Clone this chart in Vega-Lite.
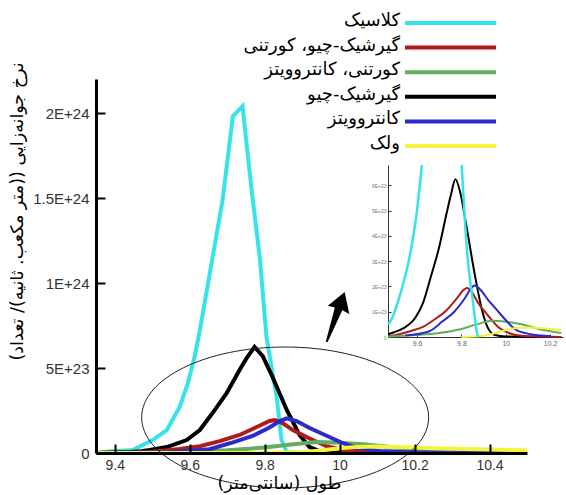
{
  "$schema": "https://vega.github.io/schema/vega-lite/v6.json",
  "width": 431,
  "height": 374,
  "autosize": "none",
  "padding": {"left": 96, "top": 79, "right": 39, "bottom": 42},
  "background": "white",
  "config": {"view": {"stroke": null}, "font": "Liberation Sans"},
  "datasets": {
    "curves": [
      {"s": "کلاسیک", "x": 9.35, "y": 0},
      {"s": "کلاسیک", "x": 9.4, "y": 1.2e22},
      {"s": "کلاسیک", "x": 9.448, "y": 1.8e22},
      {"s": "کلاسیک", "x": 9.501, "y": 7.6e22},
      {"s": "کلاسیک", "x": 9.539, "y": 1.35e23},
      {"s": "کلاسیک", "x": 9.573, "y": 2.7e23},
      {"s": "کلاسیک", "x": 9.595, "y": 4.1e23},
      {"s": "کلاسیک", "x": 9.613, "y": 5.65e23},
      {"s": "کلاسیک", "x": 9.627, "y": 7.2e23},
      {"s": "کلاسیک", "x": 9.661, "y": 1.15e24},
      {"s": "کلاسیک", "x": 9.688, "y": 1.49e24},
      {"s": "کلاسیک", "x": 9.715, "y": 1.98e24},
      {"s": "کلاسیک", "x": 9.741, "y": 2.04e24},
      {"s": "کلاسیک", "x": 9.765, "y": 1.55e24},
      {"s": "کلاسیک", "x": 9.787, "y": 1.15e24},
      {"s": "کلاسیک", "x": 9.805, "y": 6.8e23},
      {"s": "کلاسیک", "x": 9.832, "y": 3.3e23},
      {"s": "کلاسیک", "x": 9.845, "y": 7.6e22},
      {"s": "کلاسیک", "x": 9.859, "y": 6e21},
      {"s": "کلاسیک", "x": 9.9, "y": 0},
      {"s": "کلاسیک", "x": 10.5, "y": 0},
      {"s": "گیرشیک-چیو", "x": 9.35, "y": 0},
      {"s": "گیرشیک-چیو", "x": 9.44, "y": 6e21},
      {"s": "گیرشیک-چیو", "x": 9.47, "y": 1.1e22},
      {"s": "گیرشیک-چیو", "x": 9.493, "y": 1.8e22},
      {"s": "گیرشیک-چیو", "x": 9.539, "y": 3.5e22},
      {"s": "گیرشیک-چیو", "x": 9.592, "y": 7.6e22},
      {"s": "گیرشیک-چیو", "x": 9.627, "y": 1.35e23},
      {"s": "گیرشیک-چیو", "x": 9.661, "y": 2.35e23},
      {"s": "گیرشیک-چیو", "x": 9.699, "y": 3.53e23},
      {"s": "گیرشیک-چیو", "x": 9.733, "y": 4.88e23},
      {"s": "گیرشیک-چیو", "x": 9.752, "y": 5.59e23},
      {"s": "گیرشیک-چیو", "x": 9.773, "y": 6.24e23},
      {"s": "گیرشیک-چیو", "x": 9.795, "y": 5.7e23},
      {"s": "گیرشیک-چیو", "x": 9.821, "y": 4.47e23},
      {"s": "گیرشیک-چیو", "x": 9.859, "y": 2.53e23},
      {"s": "گیرشیک-چیو", "x": 9.893, "y": 1.06e23},
      {"s": "گیرشیک-چیو", "x": 9.92, "y": 3.5e22},
      {"s": "گیرشیک-چیو", "x": 9.95, "y": 8e21},
      {"s": "گیرشیک-چیو", "x": 10.0, "y": 2e21},
      {"s": "گیرشیک-چیو", "x": 10.25, "y": 0},
      {"s": "گیرشیک-چیو", "x": 10.5, "y": 0},
      {"s": "گیرشیک-چیو، کورتنی", "x": 9.35, "y": 0},
      {"s": "گیرشیک-چیو، کورتنی", "x": 9.47, "y": 3e21},
      {"s": "گیرشیک-چیو، کورتنی", "x": 9.493, "y": 6e21},
      {"s": "گیرشیک-چیو، کورتنی", "x": 9.573, "y": 2.4e22},
      {"s": "گیرشیک-چیو، کورتنی", "x": 9.627, "y": 4e22},
      {"s": "گیرشیک-چیو، کورتنی", "x": 9.68, "y": 7e22},
      {"s": "گیرشیک-چیو، کورتنی", "x": 9.733, "y": 1.06e23},
      {"s": "گیرشیک-چیو، کورتنی", "x": 9.779, "y": 1.53e23},
      {"s": "گیرشیک-چیو، کورتنی", "x": 9.813, "y": 1.88e23},
      {"s": "گیرشیک-چیو، کورتنی", "x": 9.827, "y": 1.94e23},
      {"s": "گیرشیک-چیو، کورتنی", "x": 9.848, "y": 1.76e23},
      {"s": "گیرشیک-چیو، کورتنی", "x": 9.875, "y": 1.35e23},
      {"s": "گیرشیک-چیو، کورتنی", "x": 9.92, "y": 8.5e22},
      {"s": "گیرشیک-چیو، کورتنی", "x": 9.965, "y": 4e22},
      {"s": "گیرشیک-چیو، کورتنی", "x": 10.013, "y": 1.6e22},
      {"s": "گیرشیک-چیو، کورتنی", "x": 10.08, "y": 4e21},
      {"s": "گیرشیک-چیو، کورتنی", "x": 10.25, "y": 0},
      {"s": "گیرشیک-چیو، کورتنی", "x": 10.5, "y": 0},
      {"s": "کورتنی، کانتروویتز", "x": 9.35, "y": 0},
      {"s": "کورتنی، کانتروویتز", "x": 9.47, "y": 2e21},
      {"s": "کورتنی، کانتروویتز", "x": 9.6, "y": 8e21},
      {"s": "کورتنی، کانتروویتز", "x": 9.7, "y": 1.6e22},
      {"s": "کورتنی، کانتروویتز", "x": 9.8, "y": 3.2e22},
      {"s": "کورتنی، کانتروویتز", "x": 9.87, "y": 5e22},
      {"s": "کورتنی، کانتروویتز", "x": 9.94, "y": 6.4e22},
      {"s": "کورتنی، کانتروویتز", "x": 10.0, "y": 6e22},
      {"s": "کورتنی، کانتروویتز", "x": 10.07, "y": 5e22},
      {"s": "کورتنی، کانتروویتز", "x": 10.15, "y": 3.2e22},
      {"s": "کورتنی، کانتروویتز", "x": 10.25, "y": 1.6e22},
      {"s": "کورتنی، کانتروویتز", "x": 10.35, "y": 6e21},
      {"s": "کورتنی، کانتروویتز", "x": 10.5, "y": 2e21},
      {"s": "کانتروویتز", "x": 9.35, "y": 0},
      {"s": "کانتروویتز", "x": 9.547, "y": 6e21},
      {"s": "کانتروویتز", "x": 9.653, "y": 2.2e22},
      {"s": "کانتروویتز", "x": 9.715, "y": 6.2e22},
      {"s": "کانتروویتز", "x": 9.768, "y": 1.0e23},
      {"s": "کانتروویتز", "x": 9.813, "y": 1.5e23},
      {"s": "کانتروویتز", "x": 9.84, "y": 1.88e23},
      {"s": "کانتروویتز", "x": 9.859, "y": 2.04e23},
      {"s": "کانتروویتز", "x": 9.885, "y": 1.88e23},
      {"s": "کانتروویتز", "x": 9.92, "y": 1.47e23},
      {"s": "کانتروویتز", "x": 9.955, "y": 1.12e23},
      {"s": "کانتروویتز", "x": 10.008, "y": 5.9e22},
      {"s": "کانتروویتز", "x": 10.045, "y": 2.9e22},
      {"s": "کانتروویتز", "x": 10.107, "y": 1.2e22},
      {"s": "کانتروویتز", "x": 10.2, "y": 4e21},
      {"s": "کانتروویتز", "x": 10.5, "y": 0},
      {"s": "ولک", "x": 9.35, "y": 0},
      {"s": "ولک", "x": 9.8, "y": 0},
      {"s": "ولک", "x": 9.9, "y": 5e21},
      {"s": "ولک", "x": 9.95, "y": 1.5e22},
      {"s": "ولک", "x": 10.0, "y": 2.8e22},
      {"s": "ولک", "x": 10.05, "y": 3.6e22},
      {"s": "ولک", "x": 10.1, "y": 3.8e22},
      {"s": "ولک", "x": 10.2, "y": 3.2e22},
      {"s": "ولک", "x": 10.25, "y": 2.8e22},
      {"s": "ولک", "x": 10.3, "y": 2.5e22},
      {"s": "ولک", "x": 10.4, "y": 2e22},
      {"s": "ولک", "x": 10.5, "y": 1.5e22}
    ],
    "insetCyan": [
      {"s": "کلاسیک", "part": "a", "x": 9.469, "y": 5e22},
      {"s": "کلاسیک", "part": "a", "x": 9.478, "y": 5.9e22},
      {"s": "کلاسیک", "part": "a", "x": 9.523, "y": 1.66e23},
      {"s": "کلاسیک", "part": "a", "x": 9.568, "y": 3.24e23},
      {"s": "کلاسیک", "part": "a", "x": 9.599, "y": 4.95e23},
      {"s": "کلاسیک", "part": "a", "x": 9.622, "y": 6.8e23},
      {"s": "کلاسیک", "part": "b", "x": 9.801, "y": 6.8e23},
      {"s": "کلاسیک", "part": "b", "x": 9.816, "y": 4.56e23},
      {"s": "کلاسیک", "part": "b", "x": 9.831, "y": 2.85e23},
      {"s": "کلاسیک", "part": "b", "x": 9.854, "y": 1.26e23},
      {"s": "کلاسیک", "part": "b", "x": 9.869, "y": 2.1e22},
      {"s": "کلاسیک", "part": "b", "x": 9.876, "y": 0}
    ],
    "legendRows": [
      {"s": "کلاسیک"},
      {"s": "گیرشیک-چیو، کورتنی"},
      {"s": "کورتنی، کانتروویتز"},
      {"s": "گیرشیک-چیو"},
      {"s": "کانتروویتز"},
      {"s": "ولک"}
    ]
  },
  "layer": [
    {
      "layer": [
        {
          "data": {"name": "curves"},
          "mark": {"type": "line", "strokeWidth": 4, "interpolate": "linear"},
          "encoding": {
            "x": {
              "field": "x", "type": "quantitative",
              "scale": {"domain": [9.35, 10.5], "nice": false, "zero": false},
              "axis": {
                "orient": "bottom", "values": [9.4, 9.6, 9.8, 10, 10.2, 10.4], "format": "~g",
                "labelOverlap": false, "zindex": 1, "tickSize": -9, "tickWidth": 2, "tickColor": "black",
                "domain": true, "domainWidth": 3, "domainColor": "black", "grid": false,
                "labelFontSize": 14, "labelColor": "#333", "labelPadding": 14, "labelFont": "Liberation Sans",
                "title": "\u202bطول (سانتی\u200cمتر)\u202c", "titleFont": "DejaVu Sans", "titleFontSize": 17.5, "titleFontWeight": "normal",
                "titleColor": "black", "titleX": 183, "titleY": 30, "titleBaseline": "middle", "titleAlign": "center"
              }
            },
            "y": {
              "field": "y", "type": "quantitative",
              "scale": {"domain": [0, 2.2e24], "nice": false},
              "axis": {
                "orient": "left", "values": [0, 5e23, 1e24, 1.5e24, 2e24],
                "labelExpr": "datum.value == 0 ? '0' : replace(format(datum.value, '~e'), 'e', 'E')",
                "labelOverlap": false, "zindex": 1, "tickSize": -9, "tickWidth": 2, "tickColor": "black",
                "domain": true, "domainWidth": 3, "domainColor": "black", "grid": false,
                "labelFontSize": 15, "labelColor": "#333", "labelPadding": 16, "labelFont": "Liberation Sans",
                "title": "\u202bنرخ جوانه\u200cزایی ((متر مکعب. ثانیه)/ تعداد)\u202c", "titleFont": "DejaVu Sans", "titleFontSize": 17.5, "titleFontWeight": "normal",
                "titleColor": "black", "titleX": -79, "titleY": 132, "titleAngle": 270, "titleBaseline": "middle", "titleAlign": "center"
              }
            },
            "color": {
              "field": "s", "type": "nominal",
              "scale": {
                "domain": ["کلاسیک", "گیرشیک-چیو، کورتنی", "کورتنی، کانتروویتز", "گیرشیک-چیو", "کانتروویتز", "ولک"],
                "range": ["#35e3e8", "#b01c1c", "#62ad5e", "#000000", "#2b2bc9", "#f4f43a"]
              },
              "legend": null
            }
          }
        },
        {
          "data": {"values": [{}]},
          "mark": {
            "type": "point", "filled": false, "stroke": "#222", "strokeWidth": 1, "opacity": 1, "size": 82369,
            "shape": "M-1,0C-1,-0.2712,-0.5523,-0.491,0,-0.491C0.5523,-0.491,1,-0.2712,1,0C1,0.2712,0.5523,0.491,0,0.491C-0.5523,0.491,-1,0.2712,-1,0Z"
          },
          "encoding": {
            "x": {"datum": 9.8547, "type": "quantitative"},
            "y": {"datum": 2.09e23, "type": "quantitative"}
          }
        },
        {
          "data": {"values": [{}]},
          "mark": {
            "type": "point", "filled": true, "color": "black", "opacity": 1, "size": 2809, "angle": 20,
            "shape": "M0,-1L0.45,-0.28L0.15,-0.33L0.04,1L-0.03,1L-0.15,-0.33L-0.42,-0.3Z"
          },
          "encoding": {
            "x": {"datum": 9.9893, "type": "quantitative"},
            "y": {"datum": 8.0e23, "type": "quantitative"}
          }
        }
      ]
    },
    {
      "layer": [
        {
          "data": {"name": "curves"},
          "transform": [{"filter": "datum.s != 'کلاسیک' && datum.x >= 9.469 && datum.x <= 10.26"}],
          "mark": {"type": "line", "strokeWidth": 2, "interpolate": "monotone"},
          "encoding": {
            "x": {
              "field": "x", "type": "quantitative",
              "scale": {"domain": [9.469, 10.258], "range": [292, 467], "nice": false, "zero": false},
              "axis": {
                "orient": "bottom", "offset": -116, "values": [9.6, 9.8, 10, 10.2], "format": "~g", "labelOverlap": false,
                "tickSize": -3, "tickWidth": 1, "tickColor": "#333", "domain": true, "domainWidth": 1, "domainColor": "#333",
                "grid": false, "labelFontSize": 7, "labelColor": "#666", "labelPadding": 5, "title": null
              }
            },
            "y": {
              "field": "y", "type": "quantitative",
              "scale": {"domain": [0, 6.8e23], "range": [258, 86], "nice": false},
              "axis": {
                "orient": "left", "offset": -292, "labelOverlap": false,
                "values": [0, 1e23, 2e23, 3e23, 4e23, 5e23, 6e23],
                "labelExpr": "datum.value == 0 ? '0' : replace(format(datum.value, '~e'), 'e', 'E')",
                "tickSize": -3, "tickWidth": 1, "tickColor": "#333", "domain": true, "domainWidth": 1, "domainColor": "#333",
                "grid": false, "labelFontSize": 5, "labelColor": "#777", "labelPadding": 5, "title": null
              }
            },
            "color": {"field": "s", "type": "nominal", "legend": null}
          }
        },
        {
          "data": {"name": "insetCyan"},
          "mark": {"type": "line", "strokeWidth": 2.5, "interpolate": "monotone"},
          "encoding": {
            "x": {"field": "x", "type": "quantitative"},
            "y": {"field": "y", "type": "quantitative"},
            "color": {"field": "s", "type": "nominal", "legend": null},
            "detail": {"field": "part"}
          }
        }
      ]
    },
    {
      "data": {"name": "legendRows"},
      "encoding": {
        "y": {
          "field": "s", "type": "nominal", "sort": null,
          "scale": {"type": "point", "range": [-56, 67], "padding": 0},
          "axis": null
        }
      },
      "layer": [
        {
          "mark": {"type": "rule", "strokeWidth": 4},
          "encoding": {
            "x": {"datum": 0, "type": "quantitative", "scale": {"domain": [0, 1], "range": [309, 400], "nice": false, "zero": false}, "axis": null},
            "x2": {"datum": 1},
            "color": {"field": "s", "type": "nominal", "legend": null}
          }
        },
        {
          "mark": {"type": "text", "align": "right", "baseline": "middle", "dx": -5, "dy": -2, "fontSize": 18, "font": "DejaVu Sans", "color": "black"},
          "encoding": {
            "x": {"datum": 0, "type": "quantitative", "axis": null},
            "text": {"field": "s"}
          }
        }
      ]
    }
  ],
  "resolve": {"scale": {"x": "independent", "y": "independent"}}
}
